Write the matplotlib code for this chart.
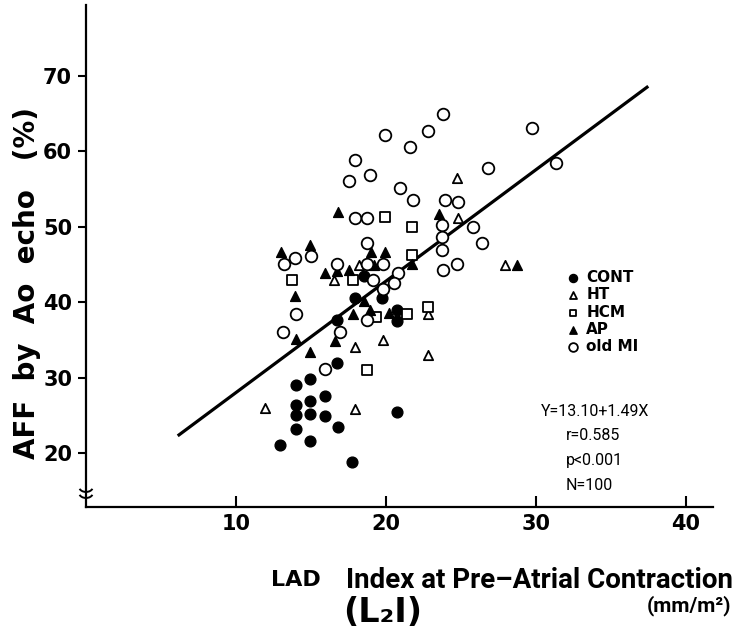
import numpy as np
import matplotlib
matplotlib.use("Agg")
from matplotlib import pyplot as plt
from matplotlib.patches import Arc

# valeurs : x = LAD index (mm/m2), y = AFF (%)
cont_x = [12.9, 14.0, 14.9, 14.0, 14.9, 15.9, 14.0, 14.9, 15.9, 14.0, 14.9,
          16.7, 16.8, 17.7, 20.7, 16.7, 17.9, 18.5, 19.7, 20.7, 20.7]
cont_y = [21.1, 23.2, 21.6, 25.0, 25.2, 24.9, 26.3, 26.9, 27.5, 29.0, 29.8,
          31.9, 23.4, 18.8, 25.4, 37.7, 40.6, 43.5, 40.6, 38.9, 37.5]

ht_x = [11.9, 17.9, 19.8, 17.9, 16.5, 18.2, 22.8, 22.8, 24.7, 24.8, 27.9]
ht_y = [26.0, 25.8, 35.0, 34.0, 43.0, 44.9, 38.4, 33.0, 56.5, 51.1, 44.9]

hcm_x = [19.9, 21.7, 21.7, 13.7, 17.8, 19.3, 21.4, 22.8, 18.7]
hcm_y = [51.3, 49.9, 46.2, 42.9, 42.9, 38.0, 38.4, 39.3, 31.0]

ap_x = [16.8, 13.0, 14.9, 19.0, 19.9, 15.9, 16.7, 17.5, 19.2, 21.7,
        23.5, 28.7, 13.9, 14.0, 14.9, 17.8, 18.9, 20.2, 16.6, 18.5]
ap_y = [52.0, 46.7, 47.6, 46.6, 46.7, 43.8, 44.1, 44.3, 44.9, 45.1,
        51.7, 44.9, 40.8, 35.1, 33.4, 38.4, 39.0, 38.5, 34.8, 40.2]

mi_x = [23.8, 22.8, 19.9, 29.7, 21.6, 17.9, 31.3, 26.8, 17.5, 18.9,
        20.9, 21.8, 23.9, 24.8, 17.9, 18.7, 25.8, 23.7, 23.7, 23.7,
        26.4, 18.7, 24.7, 23.8, 13.9, 13.2, 15.0, 16.7, 18.7, 19.8,
        20.8, 19.1, 19.8, 20.5, 18.7, 14.0, 13.1, 16.9, 15.9]
mi_y = [65.0, 62.7, 62.1, 63.1, 60.6, 58.9, 58.4, 57.8, 56.0, 56.8,
        55.2, 53.6, 53.5, 53.3, 51.1, 51.2, 50.0, 50.2, 48.6, 46.9,
        47.8, 47.8, 45.1, 44.2, 45.9, 45.0, 46.1, 45.1, 45.1, 45.1,
        43.9, 43.0, 41.8, 42.6, 37.7, 38.4, 36.0, 36.0, 31.1]

# droite de regression (extremites lues)
reg_x = [6.2, 37.4]
reg_y = [22.4, 68.5]

x_ticks = [10, 20, 30, 40]
y_ticks = [20, 30, 40, 50, 60, 70]

stats = ["Y=13.10+1.49X", "r=0.585", "p<0.001", "N=100"]

bold_wide = "DejaVu Sans"
narrow = ["Roboto", "DejaVu Sans"]

fig = plt.figure(figsize=(7.34, 6.35), dpi=100)
ax = fig.add_axes([86 / 734, 128 / 635, 627 / 734, 502 / 635])

ax.plot(reg_x, reg_y, color="black", lw=2.3, zorder=2)

ax.scatter(cont_x, cont_y, s=60, marker="o", c="black", zorder=3, label="CONT")
ax.scatter(ht_x, ht_y, s=45, marker="^", facecolors="white", edgecolors="black",
           linewidths=1.3, zorder=3, label="HT")
ax.scatter(hcm_x, hcm_y, s=45, marker="s", facecolors="white", edgecolors="black",
           linewidths=1.3, zorder=3, label="HCM")
ax.scatter(ap_x, ap_y, s=50, marker="^", c="black", zorder=3, label="AP")
ax.scatter(mi_x, mi_y, s=70, marker="o", facecolors="white", edgecolors="black",
           linewidths=1.3, zorder=3, label="old MI")

ax.set_xlim(0, 41.8)
ax.set_ylim(12.84, 79.4)

for s in ["top", "right"]:
    ax.spines[s].set_visible(False)
ax.spines["left"].set_linewidth(1.6)
ax.spines["bottom"].set_linewidth(1.6)

ax.set_xticks(x_ticks)
ax.set_yticks(y_ticks)
ax.tick_params(axis="x", direction="in", length=8, width=1.5, pad=5)
ax.tick_params(axis="y", direction="out", length=6, width=1.5, pad=4)
for lab in ax.get_xticklabels() + ax.get_yticklabels():
    lab.set_fontfamily(bold_wide)
    lab.set_fontweight("bold")
    lab.set_fontsize(15)

# cassure de l'axe y
for yb in [0.028, 0.040]:
    ax.add_patch(Arc((0, yb), 0.022, 0.02, theta1=200, theta2=340,
                     transform=ax.transAxes, lw=1.4, color="black", clip_on=False))

leg = ax.legend(loc="upper left", bbox_to_anchor=(0.754, 0.487), frameon=False,
                borderpad=0, handlelength=0.8, handletextpad=0.5,
                labelspacing=0.15, markerscale=0.75,
                prop={"family": bold_wide, "weight": "bold", "size": 11})

fig.text(541 / 734, 1 - 412 / 635, stats[0], family=narrow, fontsize=11.5,
         ha="left", va="center")
for i, t in enumerate(stats[1:]):
    fig.text(566 / 734, 1 - (436 + 25 * i) / 635, t, family=narrow, fontsize=11.5,
             ha="left", va="center")

fig.text(27 / 734, 1 - 283 / 635, "AFF  by  Ao  echo   (%)", family=bold_wide,
         fontweight="bold", fontsize=20, rotation=90, ha="center", va="center")

fig.text(271 / 734, 1 - 580 / 635, "LAD", family=bold_wide, fontweight="bold",
         fontsize=16, ha="left", va="center")
fig.text(733 / 734, 1 - 580 / 635, "Index at Pre\u2013Atrial Contraction",
         family=narrow, fontweight="bold", fontsize=20, ha="right", va="center")
fig.text(383 / 734, 1 - 612 / 635, "(L\u2082I)", family=bold_wide,
         fontweight="bold", fontsize=24, ha="center", va="center")
fig.text(731 / 734, 1 - 606 / 635, "(mm/m\u00b2)", family=narrow,
         fontweight="bold", fontsize=15, ha="right", va="center")

fig.savefig("out.png", dpi=100)
